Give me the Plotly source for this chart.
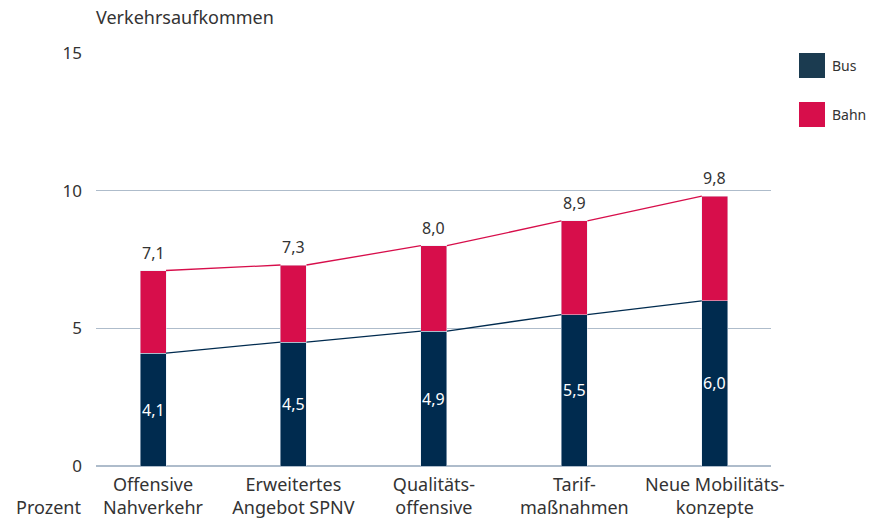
import plotly.graph_objects as go

categories = ["Offensive<br>Nahverkehr", "Erweitertes<br>Angebot SPNV", "Qualitäts-<br>offensive",
              "Tarif-<br>maßnahmen", "Neue Mobilitäts-<br>konzepte"]
bus = [4.1, 4.5, 4.9, 5.5, 6.0]
total = [7.1, 7.3, 8.0, 8.9, 9.8]
bahn = [round(t - b, 1) for t, b in zip(total, bus)]
y_ticks = [0, 5, 10, 15]

BUS_COLOR = "#002b4f"
BAHN_COLOR = "#d70e4b"
TEXT = "#333333"
GRID = "#aebccb"
FONT = "Noto Sans"

bar_w = 0.185
x = list(range(len(categories)))


def fmt(v):
    return f"{v:.1f}".replace(".", ",")


fig = go.Figure()
fig.add_bar(x=x, y=bus, width=bar_w, marker_color=BUS_COLOR, name="Bus",
            hoverinfo="skip", showlegend=False)
fig.add_bar(x=x, y=bahn, width=bar_w, marker_color=BAHN_COLOR, name="Bahn",
            hoverinfo="skip", showlegend=False)


def connector(tops):
    xs, ys = [], []
    for i in range(len(tops) - 1):
        xs += [i + bar_w / 2, i + 1 - bar_w / 2, None]
        ys += [tops[i], tops[i + 1], None]
    return xs, ys


for tops, color in ((bus, BUS_COLOR), (total, BAHN_COLOR)):
    lx, ly = connector(tops)
    fig.add_scatter(x=lx, y=ly, mode="lines", line=dict(color=color, width=1.3),
                    hoverinfo="skip", showlegend=False)

# bus values inside the lower segment, totals above each bar
for i, b in enumerate(bus):
    fig.add_annotation(x=i, y=b / 2, text=fmt(b), showarrow=False, yanchor="middle",
                       font=dict(size=16, color="white", family=FONT))
for i, t in enumerate(total):
    fig.add_annotation(x=i, y=t, text=fmt(t), showarrow=False,
                       yanchor="bottom", yshift=5, font=dict(size=16, color=TEXT, family=FONT))

# legend drawn as squares with labels
for j, (lab, col) in enumerate((("Bus", "#1b3b50"), ("Bahn", BAHN_COLOR))):
    y0 = 1 - (0 + j * 49) / 413
    fig.add_shape(type="rect", xref="paper", yref="paper",
                  x0=(799 - 96) / 675, x1=(825 - 96) / 675,
                  y0=y0 - 25 / 413, y1=y0, fillcolor=col, line_width=0)
    fig.add_annotation(xref="paper", yref="paper", x=(830 - 96) / 675, y=y0 - 12.5 / 413,
                       text=lab, showarrow=False, xanchor="left", yanchor="middle",
                       font=dict(size=14, color=TEXT, family=FONT))

fig.add_annotation(xref="paper", yref="paper", x=0, xshift=-2, y=1, yshift=22, text="Verkehrsaufkommen",
                   showarrow=False, xanchor="left", yanchor="bottom",
                   font=dict(size=18, color=TEXT, family=FONT))
fig.add_annotation(xref="paper", yref="paper", x=0, xshift=-13, y=0, yshift=-55, text="Prozent",
                   showarrow=False, xanchor="right", yanchor="bottom",
                   font=dict(size=18, color=TEXT, family=FONT))

fig.update_layout(
    width=879, height=518, margin=dict(l=96, r=108, t=53, b=52),
    plot_bgcolor="white", paper_bgcolor="white", barmode="stack",
    font=dict(family=FONT, color=TEXT),
    xaxis=dict(range=[-0.406, 4.40], tickvals=x, ticktext=categories, showgrid=False,
               zeroline=False, showline=False, ticks="", ticklabelstandoff=6, automargin=False,
               tickfont=dict(size=18, color=TEXT)),
    yaxis=dict(range=[0, 15], tickvals=y_ticks, showgrid=True, gridcolor=GRID, gridwidth=1,
               zeroline=True, zerolinecolor=GRID, zerolinewidth=1.5, showline=False, ticks="",
               ticklabelstandoff=13, automargin=False, tickfont=dict(size=17, color=TEXT)),
)

fig.write_html("out.html")
